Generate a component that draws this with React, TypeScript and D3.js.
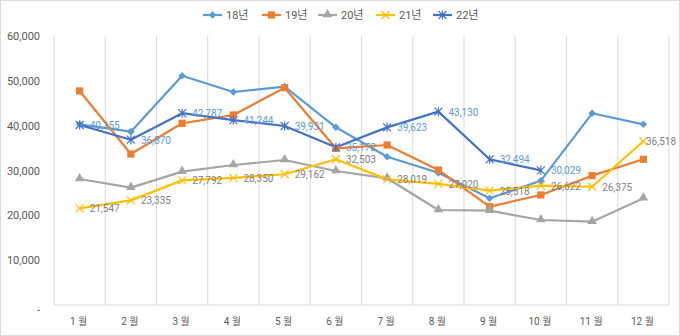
import React from "react";
import * as d3 from "d3";

const months = ["1 월", "2 월", "3 월", "4 월", "5 월", "6 월", "7 월", "8 월", "9 월", "10 월", "11 월", "12 월"];
const seriesNames = ["18년", "19년", "20년", "21년", "22년"];
const s18 = [40300, 38660, 51150, 47510, 48700, 39640, 33080, 29500, 23800, 27730, 42760, 40300];
const s19 = [47740, 33680, 40530, 42380, 48470, 34950, 35690, 30110, 21930, 24540, 28850, 32500];
const s20 = [28100, 26170, 29740, 31230, 32340, 29890, 28260, 21190, 21040, 18960, 18580, 23800];
const s21 = [21547, 23335, 27792, 28350, 29162, 32503, 28019, 27020, 25518, 26622, 26375, 36518];
const s22 = [40155, 36870, 42787, 41244, 39931, 35172, 39623, 43130, 32494, 30029];
const yTicks = [0, 10000, 20000, 30000, 40000, 50000, 60000];

const colors = ["#5B9BD5", "#ED7D31", "#A5A5A5", "#FFC000", "#4472C4"];
const markers = ["diamond", "square", "triangle", "x", "star"];

const W = 680, H = 336;
const left = 54, right = 669, top = 36, bottom = 305;

function Marker({ type, x, y, color }: { type: string; x: number; y: number; color: string }) {
  if (type === "diamond") {
    const r = 3.8;
    return <path d={`M${x},${y - r}L${x + r},${y}L${x},${y + r}L${x - r},${y}Z`} fill={color} />;
  }
  if (type === "square") return <rect x={x - 3.6} y={y - 3.6} width={7.2} height={7.2} fill={color} />;
  if (type === "triangle") {
    const p = d3.symbol(d3.symbolTriangle, 40)();
    return <path d={p || ""} transform={`translate(${x},${y - 0.5})`} fill={color} />;
  }
  if (type === "x") {
    const r = 4;
    return <path d={`M${x - r},${y - r}L${x + r},${y + r}M${x - r},${y + r}L${x + r},${y - r}`} stroke={color} strokeWidth={1.2} fill="none" />;
  }
  const r = 4;
  return (
    <path
      d={`M${x - r},${y - r}L${x + r},${y + r}M${x - r},${y + r}L${x + r},${y - r}M${x},${y - r - 0.5}L${x},${y + r + 0.5}`}
      stroke={color}
      strokeWidth={1.2}
      fill="none"
    />
  );
}

export default function App() {
  const x = d3.scaleBand<string>().domain(months).range([left, right]).padding(0);
  const y = d3.scaleLinear().domain([0, 60000]).range([bottom, top]);
  const cx = (i: number) => (x(months[i]) as number) + x.bandwidth() / 2;
  const data = [s18, s19, s20, s21, s22];
  const line = d3.line<number>().x((_, i) => cx(i)).y((d) => y(d));
  const fmt = d3.format(",");
  const font = "Roboto, 'Noto Sans CJK KR', sans-serif";
  const legendX = [203, 262, 318, 376, 433];
  const labelX = (i: number) => Math.min(cx(i) + 10, 646);

  return (
    <svg width={W} height={H} style={{ position: "absolute", left: 0, top: 0, background: "#fff" }} fontFamily={font}>
      <rect x={0.5} y={0.5} width={W - 1} height={H - 1} fill="#fff" stroke="#D9D9D9" />
      {months.map((m) => (
        <line key={m} x1={(x(m) as number) + x.bandwidth()} x2={(x(m) as number) + x.bandwidth()} y1={top} y2={bottom} stroke="#D9D9D9" strokeWidth={1} />
      ))}
      <line x1={left} x2={left} y1={top} y2={bottom} stroke="#D9D9D9" />
      <line x1={left} x2={right} y1={bottom} y2={bottom} stroke="#D9D9D9" />
      {yTicks.map((t) => (
        <text key={t} x={40} y={y(t) + (t === 0 ? 9 : 4)} textAnchor="end" fontSize={11} fill="#595959">
          {t === 0 ? "-" : fmt(t)}
        </text>
      ))}
      {months.map((m, i) => (
        <text key={m} x={cx(i) - 1} y={325} textAnchor="middle" fontSize={10} fill="#595959">
          {m}
        </text>
      ))}
      {data.map((s, k) => (
        <path key={k} d={line(s) || ""} fill="none" stroke={colors[k]} strokeWidth={2.2} strokeLinejoin="round" />
      ))}
      {data.map((s, k) => (
        <g key={k}>
          {s.map((v, i) => (
            <Marker key={i} type={markers[k]} x={cx(i)} y={y(v)} color={colors[k]} />
          ))}
        </g>
      ))}
      {s21.map((v, i) => (
        <text key={"l21" + i} x={labelX(i)} y={y(v) + 4} fontSize={10} fill="#7F7F7F">
          {fmt(v)}
        </text>
      ))}
      {s22.map((v, i) => (
        <text key={"l22" + i} x={labelX(i)} y={y(v) + 4} fontSize={10} fill="#5B9BD5">
          {fmt(v)}
        </text>
      ))}
      {seriesNames.map((n, k) => (
        <g key={n}>
          <line x1={legendX[k]} x2={legendX[k] + 19} y1={15} y2={15} stroke={colors[k]} strokeWidth={2.2} />
          <Marker type={markers[k]} x={legendX[k] + 9.5} y={15} color={colors[k]} />
          <text x={legendX[k] + 23} y={19} fontSize={11} fill="#595959">
            {n}
          </text>
        </g>
      ))}
    </svg>
  );
}
